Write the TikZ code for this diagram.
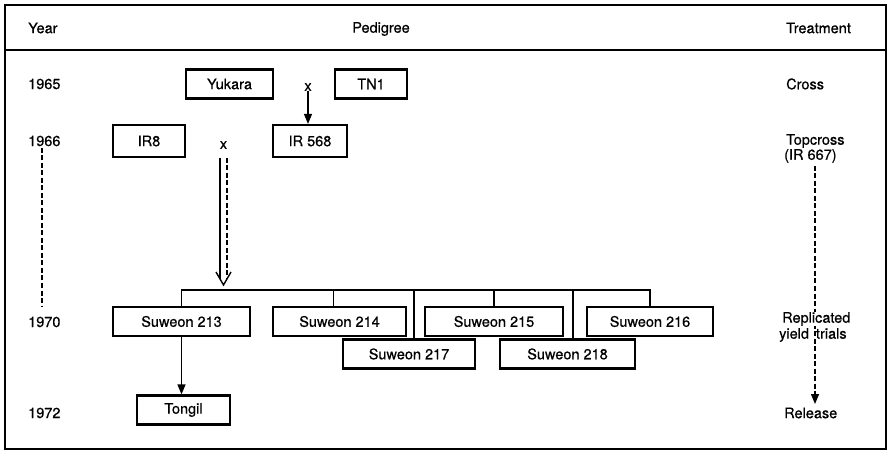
\documentclass[tikz,border=0pt]{standalone}
\usepackage{fontspec}
\setmainfont[FakeBold=0.6]{TeX Gyre Heros}
\usetikzlibrary{arrows.meta}
\begin{document}
\begin{tikzpicture}[x=1pt,y=-1pt,
  font=\fontsize{14.5}{16}\selectfont,
  box/.style={draw, line width=2.2pt, minimum height=29pt, inner sep=0pt},
  lbl/.style={inner sep=0pt},
  conn/.style={line width=1.4pt},
  arr/.style={conn, -{Triangle[length=10pt,width=8pt]}},
  dsh/.style={conn, dash pattern=on 5pt off 2.5pt}]
\useasboundingbox (0,0) rectangle (891,454);
% frame
\draw[line width=1.3pt] (5,5) rectangle (886,449);
\draw[line width=1.3pt] (5,50) -- (886,50);
% headers
\node[lbl, anchor=west] (hyear) at (28,28) {Year};
\node[lbl] (hped) at (381,29) {Pedigree};
\node[lbl, anchor=west] (htreat) at (786,28) {Treatment};
% years
\node[lbl, anchor=west] (y65) at (28,84) {1965};
\node[lbl, anchor=west] (y66) at (28,141) {1966};
\node[lbl, anchor=west] (y70) at (28,322) {1970};
\node[lbl, anchor=west] (y72) at (28,413) {1972};
% boxes
\node[box, minimum width=87pt] (yuk) at (229.5,84) {Yukara};
\node[box, minimum width=72pt] (tn1) at (371,84) {TN1};
\node[lbl] (x1) at (308,87) {x};
\node[box, minimum width=72pt, minimum height=32pt] (ir8) at (149,141) {IR8};
\node[box, minimum width=74pt, minimum height=32pt] (ir568) at (310,141) {IR 568};
\node[lbl] (x2) at (223.5,145) {x};
\node[box, minimum width=137pt] (s213) at (181.5,321.5) {Suweon 213};
\node[box, minimum width=133pt] (s214) at (339.5,321.5) {Suweon 214};
\node[box, minimum width=138pt] (s215) at (494,321.5) {Suweon 215};
\node[box, minimum width=126pt] (s216) at (650,321.5) {Suweon 216};
\node[box, minimum width=132pt] (s217) at (409,354) {Suweon 217};
\node[box, minimum width=135pt] (s218) at (567.5,354) {Suweon 218};
\node[box, minimum width=93pt] (tongil) at (183.5,410) {Tongil};
% arrows from crosses
\draw[arr] (x1.south) -- (x1.south |- ir568.north);
\coordinate (bar) at (0,290);
\path (x2.center) ++(-3.5,13) coordinate (dl) ++(7,0) coordinate (dr);
\coordinate (tip) at (223.5,285);
\draw[conn] (dl) -- (dl |- 0,279);
\draw[dsh] (dr) -- (dr |- 0,279);
\draw[conn] ([xshift=-7.5pt, yshift=13pt]tip) -- (tip) -- ([xshift=7.5pt, yshift=13pt]tip);
% distribution bar
\draw[conn] (s213.north) -- (s213.north |- bar) -- (s216.north |- bar) -- (s216.north);
\draw[conn] ([xshift=-6pt]s214.north) -- ([xshift=-6pt]s214.north |- bar);
\draw[conn] ([xshift=5pt]s217.north) -- ([xshift=5pt]s217.north |- bar);
\draw[conn] (s215.north) -- (s215.north |- bar);
\draw[conn] ([xshift=5.5pt]s218.north) -- ([xshift=5.5pt]s218.north |- bar);
\draw[arr] (s213.south) -- (s213.south |- tongil.north);
% time dashed lines
\coordinate (ltop) at (42,148);
\coordinate (lbot) at (42,307);
\draw[dsh] (ltop) -- (lbot);
\node[lbl, anchor=west] (tcross) at (786,84) {Cross};
\node[lbl, anchor=west] (ttop) at (786,141) {Topcross};
\node[lbl, anchor=west] (tir) at (784,156) {(IR 667)};
\node[lbl, anchor=west] (trel) at (784,413) {Release};
\coordinate (rtop) at (815,166);
\draw[dsh, -{Triangle[length=10pt,width=8pt]}] (rtop) -- (815,404);
\node[lbl, anchor=west, fill=white, inner ysep=0.5pt] (trep) at (782,319) {Replicated};
\node[lbl, anchor=west] (tyld) at (779,335) {yield\hspace{7pt}trials};
\end{tikzpicture}
\end{document}
